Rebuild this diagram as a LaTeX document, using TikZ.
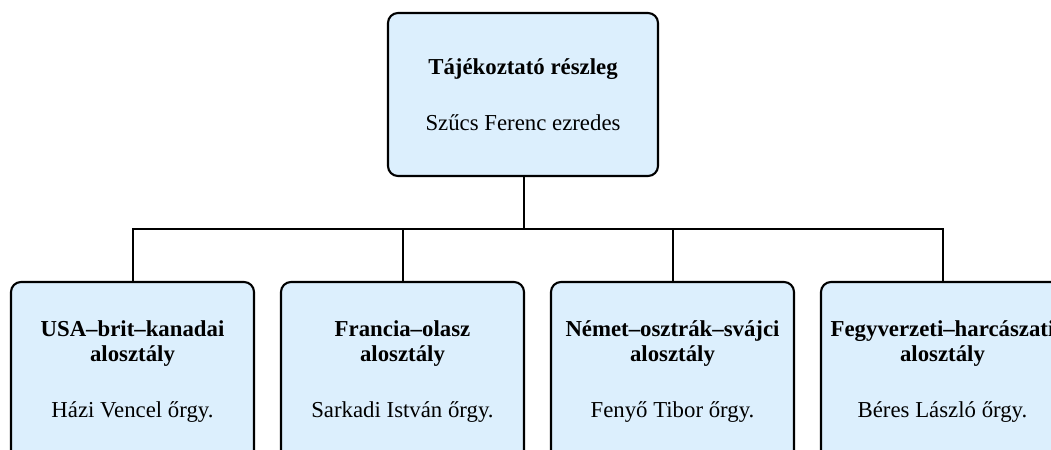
\documentclass[tikz,border=0pt]{standalone}
\usepackage{fontspec}
\setmainfont{Liberation Serif}
\definecolor{boxfill}{RGB}{220,239,253}
\begin{document}
\begin{tikzpicture}[x=0.75pt,y=-0.75pt,
  orgbox/.style={draw=black,line width=1.6pt,rounded corners=7.5pt,fill=boxfill,
    align=center,inner sep=0pt,font=\fontsize{17.1}{18.75}\selectfont},
  topbox/.style={orgbox,minimum width=202.5pt,minimum height=122.25pt},
  subbox/.style={orgbox,minimum width=182.25pt,minimum height=135pt},
  link/.style={draw=black,line width=1.5pt}]
\useasboundingbox (0,0) rectangle (1051,450);
\clip (0,0) rectangle (1051,450);
\fill[white] (0,0) rectangle (1051,450);
\node[topbox] (top) at (523,94.5) {\textbf{Tájékoztató részleg}\\[23.25pt]Szűcs Ferenc ezredes};
\node[subbox] (b1) at (132.5,372) {\textbf{USA–brit–kanadai}\\\textbf{alosztály}\\[23.25pt]Házi Vencel őrgy.};
\node[subbox] (b2) at (402.5,372) {\textbf{Francia–olasz}\\\textbf{alosztály}\\[23.25pt]Sarkadi István őrgy.};
\node[subbox] (b3) at (672.5,372) {\textbf{Német–osztrák–svájci}\\\textbf{alosztály}\\[23.25pt]Fenyő Tibor őrgy.};
\node[subbox] (b4) at (942.5,372) {\textbf{Fegyverzeti–harcászati}\\\textbf{alosztály}\\[23.25pt]Béres László őrgy.};
\coordinate (j) at (524,228.5);
\draw[link] (top.south -| j) -- (j);
\draw[link] (j) -| (b1.north);
\draw[link] (j) -| (b2.north);
\draw[link] (j) -| (b3.north);
\draw[link] (j) -| (b4.north);
\end{tikzpicture}
\end{document}
